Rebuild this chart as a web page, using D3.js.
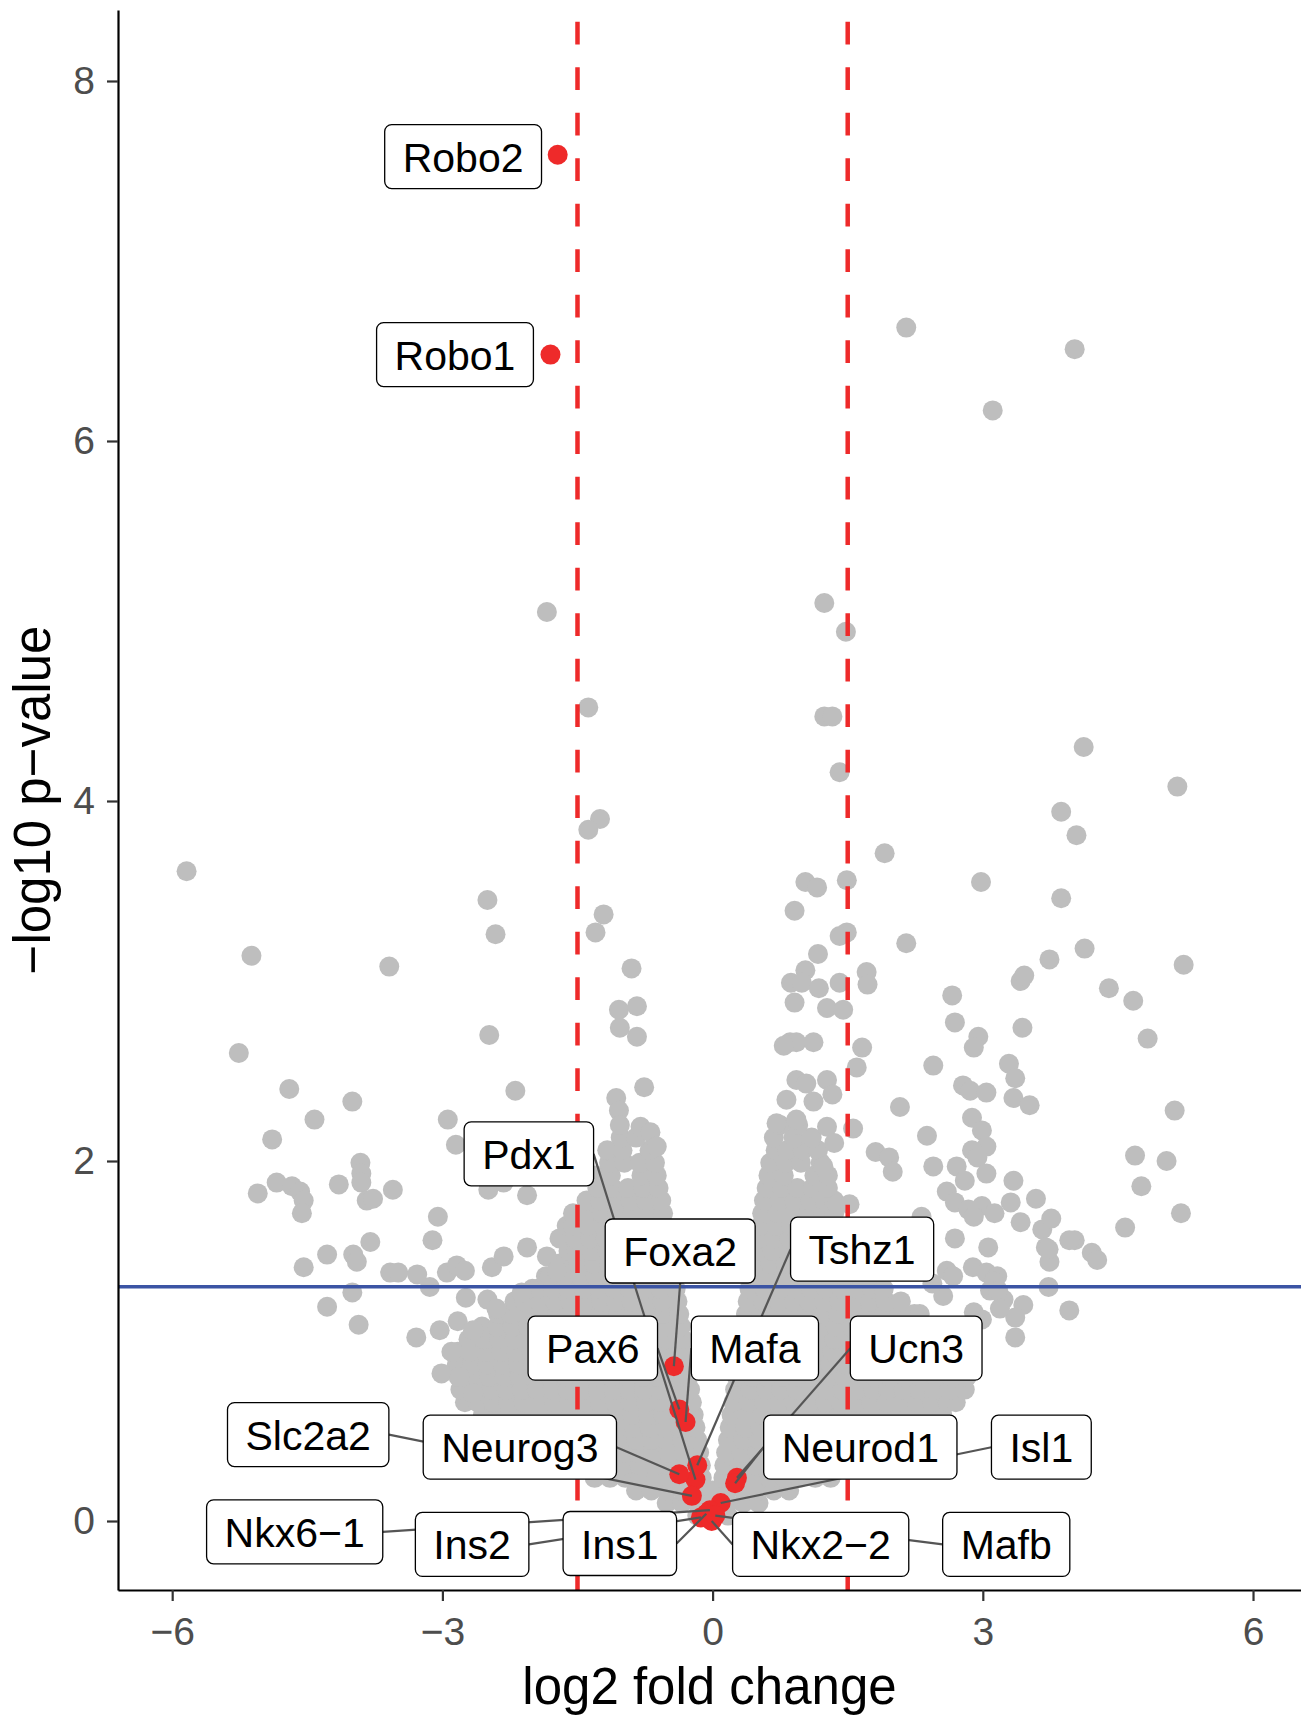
<!DOCTYPE html>
<html>
<head>
<meta charset="utf-8">
<script src="https://cdn.jsdelivr.net/npm/d3@7"></script>
<style>
  body { margin: 0; background: #fff; }
  svg { display: block; }
</style>
</head>
<body>
<div id="chart"></div>
<script>
'use strict';

// ---- data ----

const xTicks = [-6, -3, 0, 3, 6];
const yTicks = [0, 2, 4, 6, 8];
const foldChangeCutoff = 1.5;      // dashed red lines at +/- this
const pValueCutoff = 1.301;        // -log10(0.05), blue line

// individually readable grey genes: [log2 fold change, -log10 p]
const scatteredGenes = [
  [2.15,6.63],[4.02,6.51],[3.11,6.17],[-1.84,5.05],[1.24,5.10],[1.48,4.94],[-1.38,4.52],[1.24,4.47],
  [1.33,4.47],[4.12,4.30],[1.41,4.16],[5.16,4.08],[-1.25,3.90],[-1.38,3.84],[3.87,3.94],[4.04,3.81],
  [1.91,3.71],[-5.84,3.61],[1.03,3.55],[1.16,3.52],[1.49,3.56],[2.98,3.55],[0.91,3.39],[3.87,3.46],
  [-2.50,3.45],[-2.41,3.26],[-1.21,3.37],[-1.30,3.27],[1.49,3.27],[1.41,3.25],[2.15,3.21],[1.17,3.15],
  [-5.12,3.14],[-3.59,3.08],[-0.90,3.07],[1.03,3.06],[0.87,2.99],[0.99,2.99],[1.18,2.96],[1.41,2.99],
  [1.71,3.05],[1.72,2.98],[2.66,2.92],[3.42,3.00],[3.46,3.03],[3.74,3.12],[4.13,3.18],[4.40,2.96],
  [5.23,3.09],[4.67,2.89],
  [-1.04,2.84],[-0.84,2.86],[-1.03,2.74],[-0.84,2.69],[-2.48,2.70],[-5.26,2.60],[-4.70,2.40],[-2.19,2.39],
  [-0.76,2.41],[-1.07,2.35],[-1.04,2.28],[-4.00,2.33],[-4.42,2.23],[-2.94,2.23],[-2.85,2.09],[-4.89,2.12],
  [-1.03,2.20],[-0.80,2.19],[-0.69,2.16],[-0.62,2.08],[-3.91,1.99],[-3.90,1.93],[-3.90,1.88],[-4.84,1.88],
  [-4.67,1.86],[-4.58,1.83],[-4.54,1.78],[-4.56,1.71],[-5.05,1.82],[-4.15,1.87],[-3.84,1.78],[-3.77,1.79],
  [-3.55,1.84],[-2.49,1.84],[-2.32,1.88],[-2.06,1.81],[-3.05,1.69],[-3.11,1.56],[-3.80,1.55],[-3.99,1.48],
  [-3.95,1.44],[-4.28,1.48],[-4.54,1.41],[-3.58,1.38],[-3.49,1.38],[-3.28,1.37],[-3.14,1.30],[-2.95,1.38],
  [-2.84,1.42],[-2.75,1.39],[-2.45,1.41],[-2.32,1.47],[-2.06,1.52],[-1.84,1.47],[-1.73,1.39],[-4.00,1.27],
  [-4.28,1.19],[-3.93,1.09],[-2.74,1.24],[-2.50,1.23],[-2.40,1.18],[-2.12,1.27],[-3.29,1.02],[-3.03,1.06],
  [-2.90,0.94],[-3.01,0.82],[-2.81,0.80],[-2.83,1.11],[-2.66,1.06],[-2.66,0.71],
  [0.91,2.88],[1.27,2.85],[1.45,2.84],[0.86,2.66],[0.93,2.66],[1.12,2.66],[0.79,2.64],[0.93,2.45],
  [1.04,2.43],[1.27,2.45],[1.33,2.37],[0.82,2.34],[1.12,2.33],[1.66,2.63],[1.60,2.52],[1.56,2.18],
  [0.71,2.21],[0.93,2.23],[1.27,2.19],[1.35,2.10],[1.23,1.97],[2.08,2.30],[1.81,2.05],[1.96,2.02],
  [2.00,1.94],[1.38,1.76],[1.52,1.76],[2.45,2.53],[2.69,2.77],[2.95,2.69],[2.90,2.63],[2.38,2.14],
  [2.45,1.97],[2.71,1.97],[2.78,2.42],[2.86,2.39],[3.04,2.38],[2.88,2.24],[2.99,2.17],[3.04,2.08],
  [2.88,2.06],[2.94,2.02],[3.04,1.93],[2.80,1.89],[2.60,1.83],[2.69,1.77],[2.84,1.73],[2.99,1.75],
  [3.31,1.77],[2.32,1.69],[2.90,1.69],[3.13,1.71],[3.42,1.66],[2.69,1.57],[3.06,1.52],[3.34,1.89],
  [3.59,1.79],[3.66,1.62],[3.70,1.52],[3.29,2.54],[3.36,2.46],[3.34,2.35],[3.52,2.31],[3.44,2.74],
  [4.02,1.56],[4.21,1.49],[4.58,1.63],[5.13,2.28],[5.04,2.00],[4.69,2.03],[4.76,1.86],[5.20,1.71],
  [4.83,2.68],[3.73,1.30],[3.96,1.17],[3.36,1.02],[3.45,1.20],[3.36,1.13],[3.23,1.23],[3.08,1.28],
  [2.90,1.16],[2.99,1.12],[2.89,1.41],[3.04,1.38],[3.16,1.36],[2.60,1.39],[2.67,1.36],[2.56,1.25],
  [2.44,1.32],[3.12,1.33],[3.17,1.28],[3.19,1.18],[3.76,1.68],[3.96,1.56],[3.74,1.44],[3.73,1.51],
  [4.27,1.45]
];

// the solid V-shaped mass of genes, read row by row: [-log10 p, [log2 fold changes]]
const denseCloudRows = [
  [0.03, [-0.17,0,0.17]],
  [0.10, [-0.51,-0.34,-0.17,0,0.17,0.34,0.51]],
  [0.17, [-0.85,-0.68,-0.51,-0.34,-0.17,0,0.17,0.34,0.51,0.68,0.85]],
  [0.24, [-1.31,-1.14,-0.97,-0.80,-0.63,-0.46,-0.29,-0.12,0.12,0.29,0.46,0.63,0.80,0.97,1.14,1.31]],
  [0.31, [-1.66,-1.49,-1.32,-1.15,-0.98,-0.81,-0.64,-0.47,-0.30,-0.13,0.13,0.30,0.47,0.64,0.81,0.98,1.15,1.32,1.49,1.66]],
  [0.38, [-1.85,-1.68,-1.51,-1.34,-1.17,-1.00,-0.83,-0.66,-0.49,-0.32,-0.15,0.15,0.32,0.49,0.66,0.83,1.00,1.17,1.34,1.51,1.68,1.85,1.95]],
  [0.45, [-2.15,-2.04,-1.87,-1.70,-1.53,-1.36,-1.19,-1.02,-0.85,-0.68,-0.51,-0.34,-0.17,0.17,0.34,0.51,0.68,0.85,1.02,1.19,1.36,1.53,1.70,1.87,2.04,2.18]],
  [0.52, [-2.36,-2.23,-2.06,-1.89,-1.72,-1.55,-1.38,-1.21,-1.04,-0.87,-0.70,-0.53,-0.36,-0.19,0.19,0.36,0.53,0.70,0.87,1.04,1.21,1.38,1.55,1.72,1.89,2.06,2.23,2.38]],
  [0.59, [-2.55,-2.42,-2.25,-2.08,-1.91,-1.74,-1.57,-1.40,-1.23,-1.06,-0.89,-0.72,-0.55,-0.38,-0.21,0.21,0.38,0.55,0.72,0.89,1.06,1.23,1.40,1.57,1.74,1.91,2.08,2.25,2.42,2.55]],
  [0.66, [-2.75,-2.61,-2.44,-2.27,-2.10,-1.93,-1.76,-1.59,-1.42,-1.25,-1.08,-0.91,-0.74,-0.57,-0.40,-0.23,0.23,0.40,0.57,0.74,0.91,1.08,1.25,1.42,1.59,1.76,1.93,2.10,2.27,2.44,2.61,2.70]],
  [0.73, [-2.80,-2.63,-2.46,-2.29,-2.12,-1.95,-1.78,-1.61,-1.44,-1.27,-1.10,-0.93,-0.76,-0.59,-0.42,-0.25,0.25,0.42,0.59,0.76,0.93,1.10,1.27,1.44,1.61,1.78,1.95,2.12,2.29,2.46,2.63,2.80]],
  [0.80, [-2.82,-2.65,-2.48,-2.31,-2.14,-1.97,-1.80,-1.63,-1.46,-1.29,-1.12,-0.95,-0.78,-0.61,-0.44,-0.27,0.27,0.44,0.61,0.78,0.95,1.12,1.29,1.46,1.63,1.80,1.97,2.14,2.31,2.48,2.65,2.82]],
  [0.87, [-2.84,-2.67,-2.50,-2.33,-2.16,-1.99,-1.82,-1.65,-1.48,-1.31,-1.14,-0.97,-0.80,-0.63,-0.46,-0.29,0.29,0.46,0.63,0.80,0.97,1.14,1.31,1.48,1.65,1.82,1.99,2.16,2.33,2.50,2.67,2.84]],
  [0.94, [-2.83,-2.69,-2.52,-2.35,-2.18,-2.01,-1.84,-1.67,-1.50,-1.33,-1.16,-0.99,-0.82,-0.65,-0.48,-0.31,0.31,0.48,0.65,0.82,0.99,1.16,1.33,1.50,1.67,1.84,2.01,2.18,2.35,2.52,2.69,2.83]],
  [1.01, [-2.71,-2.54,-2.37,-2.20,-2.03,-1.86,-1.69,-1.52,-1.35,-1.18,-1.01,-0.84,-0.67,-0.50,-0.33,0.33,0.50,0.67,0.84,1.01,1.18,1.35,1.52,1.69,1.86,2.03,2.20,2.37,2.54,2.68]],
  [1.08, [-2.56,-2.39,-2.22,-2.05,-1.88,-1.71,-1.54,-1.37,-1.20,-1.03,-0.86,-0.69,-0.52,-0.35,0.35,0.52,0.69,0.86,1.03,1.20,1.37,1.54,1.71,1.88,2.05,2.22,2.39,2.50]],
  [1.15, [-2.38,-2.24,-2.07,-1.90,-1.73,-1.56,-1.39,-1.22,-1.05,-0.88,-0.71,-0.54,-0.37,0.37,0.54,0.71,0.88,1.05,1.22,1.39,1.56,1.73,1.90,2.07,2.24,2.30]],
  [1.22, [-2.20,-2.09,-1.92,-1.75,-1.58,-1.41,-1.24,-1.07,-0.90,-0.73,-0.56,-0.39,0.39,0.56,0.73,0.90,1.07,1.24,1.41,1.58,1.75,1.92,2.09]],
  [1.29, [-2.00,-1.94,-1.77,-1.60,-1.43,-1.26,-1.09,-0.92,-0.75,-0.58,-0.41,0.41,0.58,0.75,0.92,1.09,1.26,1.43,1.60,1.77,1.90]],
  [1.36, [-1.85,-1.81,-1.64,-1.47,-1.30,-1.13,-0.96,-0.79,-0.62,-0.45,0.45,0.62,0.79,0.96,1.13,1.30,1.47,1.64,1.70]],
  [1.43, [-1.70,-1.66,-1.49,-1.32,-1.15,-0.98,-0.81,-0.64,-0.47,0.47,0.64,0.81,0.98,1.15,1.32,1.49]],
  [1.50, [-1.60,-1.51,-1.34,-1.17,-1.00,-0.83,-0.66,-0.49,0.49,0.66,0.83,1.00,1.17,1.34,1.45]],
  [1.57, [-1.70,-1.53,-1.36,-1.19,-1.02,-0.85,-0.68,-0.51,0.51,0.68,0.85,1.02,1.19,1.36,1.45]],
  [1.64, [-1.62,-1.55,-1.38,-1.21,-1.04,-0.87,-0.70,-0.53,0.53,0.70,0.87,1.04,1.21,1.38]],
  [1.71, [-1.55,-1.40,-1.23,-1.06,-0.89,-0.72,-0.55,0.55,0.72,0.89,1.06,1.23,1.35]],
  [1.78, [-1.40,-1.25,-1.08,-0.91,-0.74,-0.57,0.57,0.74,0.91,1.08,1.25,1.35]],
  [1.85, [-1.28,-1.11,-0.94,-0.77,-0.60,0.60,0.77,0.94,1.11,1.28]],
  [1.92, [-1.30,-1.13,-0.79,-0.62,0.62,0.79,1.13,1.28]],
  [1.99, [-1.15,-0.98,-0.81,-0.64,0.64,0.81,0.98,1.20]],
  [2.06, [-1.17,-1.00,-0.70,0.70,0.83,1.00,1.17]],
  [2.13, [-1.02,-0.85,0.68,0.90,1.10]],
  [2.20, [0.75,0.95]]
];

// highlighted genes
const geneNames = ["Robo2","Robo1","Pdx1","Foxa2","Tshz1","Pax6","Mafa","Ucn3","Slc2a2",
  "Neurog3","Neurod1","Isl1","Nkx6\u22121","Ins2","Ins1","Nkx2\u22122","Mafb"];
const geneFoldChange = [-1.72,-1.80,-0.19,-0.43,-0.17,-0.37,-0.30,0.27,-0.23,
  -0.37,0.25,0.09,-0.03,-0.13,-0.07,-0.01,0.03];
const geneNegLogP = [7.59,6.48,0.23,0.86,0.31,0.62,0.55,0.24,0.14,
  0.26,0.21,0.10,0.06,0.02,0.04,0.00,0.03];

// where the repelled label boxes ended up (centre, in data units)
const labelCentreX = [-2.77,-2.86,-2.04,-0.36,1.66,-1.33,0.47,2.26,-4.49,
  -2.14,1.64,3.65,-4.64,-2.67,-1.03,1.20,3.26];
const labelCentreY = [7.58,6.48,2.04,1.50,1.51,0.96,0.96,0.96,0.48,
  0.41,0.41,0.41,-0.06,-0.13,-0.125,-0.13,-0.13];

// ---- drawing ----

const fontFamily = "'Liberation Sans', Arial, Helvetica, sans-serif";

const plotVolcano = () => {
  const width = 1301, height = 1717;
  const panelLeft = 118, panelRight = 1301, panelTop = 10, panelBottom = 1590;

  const svg = d3.select("#chart").append("svg")
    .attr("width", width)
    .attr("height", height)
    .style("font-family", fontFamily);

  const x = d3.scaleLinear().domain([-6.6016, 6.5327]).range([panelLeft, panelRight]);
  const y = d3.scaleLinear().domain([-0.3833, 8.3944]).range([panelBottom, panelTop]);

  // grey points: the dense cloud first, then the loose ones
  const cloud = denseCloudRows.flatMap(([py, xs]) => xs.map(px => [px, py]));
  const grey = cloud.concat(scatteredGenes);

  svg.append("g").selectAll("circle")
    .data(grey)
    .enter().append("circle")
    .attr("cx", d => x(d[0]))
    .attr("cy", d => y(d[1]))
    .attr("r", 10)
    .attr("fill", "#BEBEBE");

  const genes = geneNames.map((name, i) => ({
    name: name,
    fc: geneFoldChange[i],
    p: geneNegLogP[i],
    lx: labelCentreX[i],
    ly: labelCentreY[i]
  }));

  svg.append("g").selectAll("circle")
    .data(genes)
    .enter().append("circle")
    .attr("cx", d => x(d.fc))
    .attr("cy", d => y(d.p))
    .attr("r", 10)
    .attr("fill", "#EE2A2A");

  // fold change cut-offs
  svg.append("g").selectAll("line")
    .data([-foldChangeCutoff, foldChangeCutoff])
    .enter().append("line")
    .attr("x1", d => x(d)).attr("x2", d => x(d))
    .attr("y1", panelTop).attr("y2", panelBottom)
    .attr("stroke", "#EE2A2A")
    .attr("stroke-width", 4.5)
    .attr("stroke-dasharray", "22.7 22.8")
    .attr("stroke-dashoffset", 33.8);

  // p-value cut-off
  svg.append("line")
    .attr("x1", panelLeft).attr("x2", panelRight)
    .attr("y1", y(pValueCutoff)).attr("y2", y(pValueCutoff))
    .attr("stroke", "#3B54A4")
    .attr("stroke-width", 3.5);

  // axes
  const xAxis = svg.append("g")
    .attr("transform", "translate(0," + panelBottom + ")")
    .call(d3.axisBottom(x).tickValues(xTicks).tickSize(11).tickSizeOuter(0).tickPadding(16));
  const yAxis = svg.append("g")
    .attr("transform", "translate(" + panelLeft + ",0)")
    .call(d3.axisLeft(y).tickValues(yTicks).tickSize(11).tickSizeOuter(0).tickPadding(12));

  [xAxis, yAxis].forEach(ax => {
    ax.attr("font-family", fontFamily).attr("font-size", 39);
    ax.select(".domain").attr("stroke", "#000").attr("stroke-width", 2.2);
    ax.selectAll(".tick line").attr("stroke", "#333").attr("stroke-width", 2.2);
    ax.selectAll(".tick text").attr("fill", "#4D4D4D");
  });

  svg.append("text")
    .attr("x", (panelLeft + panelRight) / 2)
    .attr("y", 1704)
    .attr("text-anchor", "middle")
    .attr("font-size", 51)
    .attr("fill", "#000")
    .text("log2 fold change");

  svg.append("text")
    .attr("transform", "translate(50," + ((panelTop + panelBottom) / 2) + ") rotate(-90)")
    .attr("text-anchor", "middle")
    .attr("font-size", 51)
    .attr("fill", "#000")
    .text("\u2212log10 p\u2212value");

  // repelled labels: segments underneath, boxes on top
  const segG = svg.append("g");
  const boxG = svg.append("g");
  const fontSize = 41, pad = 18, boxH = 64;

  genes.forEach(g => {
    const cx = x(g.lx), cy = y(g.ly);
    const t = boxG.append("text")
      .attr("x", cx)
      .attr("y", cy + 15)
      .attr("text-anchor", "middle")
      .attr("font-size", fontSize)
      .attr("fill", "#000")
      .text(g.name);
    const w = t.node().getComputedTextLength() + 2 * pad;
    const bx1 = cx - w / 2, bx2 = cx + w / 2, by1 = cy - boxH / 2, by2 = cy + boxH / 2;
    boxG.insert("rect", function () { return t.node(); })
      .attr("x", bx1).attr("y", by1)
      .attr("width", w).attr("height", boxH)
      .attr("rx", 7).attr("ry", 7)
      .attr("fill", "#fff")
      .attr("stroke", "#000")
      .attr("stroke-width", 1.3);

    const px = x(g.fc), py = y(g.p);
    let sx, sy;
    if (px < bx1) { sx = bx1; sy = cy; }
    else if (px > bx2) { sx = bx2; sy = cy; }
    else if (py > by2) { sx = cx; sy = by2; }
    else { sx = cx; sy = by1; }
    if (Math.hypot(px - sx, py - sy) > 25) {
      segG.append("line")
        .attr("x1", sx).attr("y1", sy)
        .attr("x2", px).attr("y2", py)
        .attr("stroke", "#555")
        .attr("stroke-width", 2.2);
    }
  });
};

plotVolcano();
</script>
</body>
</html>
